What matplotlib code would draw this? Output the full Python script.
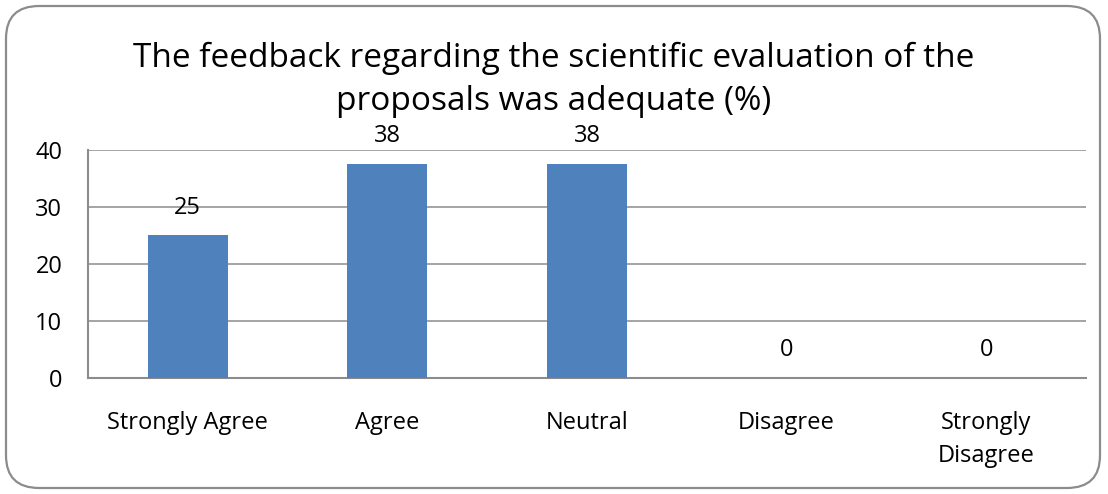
import matplotlib
matplotlib.use('Agg')
import matplotlib.pyplot as plt
from matplotlib.patches import FancyBboxPatch

categories = ['Strongly Agree', 'Agree', 'Neutral', 'Disagree', 'Strongly\nDisagree']
values = [25, 37.5, 37.5, 0, 0]
labels = ['25', '38', '38', '0', '0']
yticks = [0, 10, 20, 30, 40]

title = 'The feedback regarding the scientific evaluation of the\nproposals was adequate (%)'

plt.rcParams['font.family'] = ['Open Sans', 'DejaVu Sans']

fig = plt.figure(figsize=(11.08, 4.94), dpi=100)
fig.patch.set_facecolor('white')

# rounded frame around the whole chart
frame = FancyBboxPatch((6 / 1108, 6 / 494), 1094 / 1108, 482 / 494,
                       boxstyle='round,pad=0,rounding_size=0.03',
                       transform=fig.transFigure, facecolor='none',
                       edgecolor='#8c8c8c', linewidth=1.6, mutation_aspect=2.2)
fig.patches.append(frame)

ax = fig.add_axes([88 / 1108, 1 - 378 / 494, 998 / 1108, 228 / 494])

x = range(len(categories))
bars = ax.bar(x, values, width=0.4, color='#4f81bd', zorder=3)

for xi, v, lab in zip(x, values, labels):
    ax.annotate(lab, (xi, v), xytext=(0, 20), textcoords='offset points',
                ha='center', va='center', fontsize=17, color='black')

ax.set_xlim(-0.5, len(categories) - 0.5)
ax.set_ylim(0, 40)
ax.set_yticks(yticks)
ax.set_xticks(list(x))
ax.set_xticklabels(categories, fontsize=17, linespacing=1.5, va='top')
ax.tick_params(axis='x', length=0, pad=24)
ax.tick_params(axis='y', length=0, pad=18.5, labelsize=17)
ax.yaxis.grid(True, color='#8c8c8c', linewidth=1.1, zorder=0)
for s in ['top', 'right']:
    ax.spines[s].set_visible(False)
for s in ['left', 'bottom']:
    ax.spines[s].set_color('#8c8c8c')
    ax.spines[s].set_linewidth(1.5)

fig.text(0.5, 1 - 80 / 494, title, ha='center', va='center',
         fontsize=24, linespacing=1.4)

fig.savefig('out.png', dpi=100)
